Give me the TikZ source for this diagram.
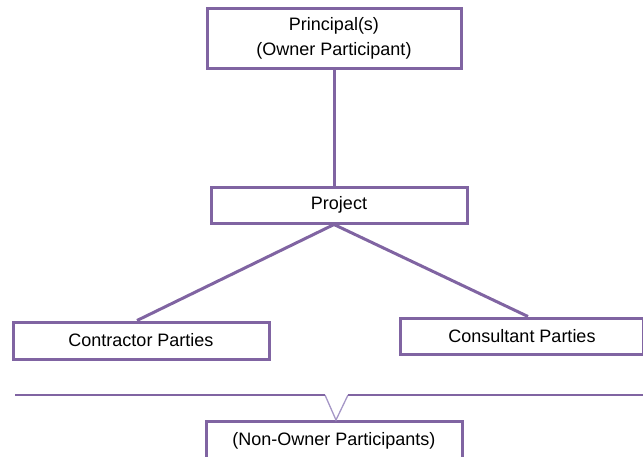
\documentclass[tikz,border=0pt]{standalone}
\usepackage{fontspec}
\setmainfont{Liberation Sans}
\definecolor{boxpurple}{HTML}{8064A2}
\definecolor{lightpurple}{HTML}{A596C6}
\begin{document}
\begin{tikzpicture}[x=1pt,y=-1pt,
  pbox/.style={draw=boxpurple, line width=3pt, fill=white, rectangle, inner sep=0pt,
    font=\fontsize{18}{25}\selectfont, align=center},
  conn/.style={draw=boxpurple, line width=3pt},
  thin/.style={draw=lightpurple, line width=1.3pt}]
\useasboundingbox (0,0) rectangle (643,456);
\clip (0,0) rectangle (643,456);
\node[pbox, minimum width=254pt, minimum height=60pt] (prin) at (334,38) {Principal(s)\\(Owner Participant)};
\node[pbox, minimum width=256pt, minimum height=36pt] (proj) at (339,205) {Project};
\node[pbox, minimum width=256pt, minimum height=37pt] (contr) at (141,340.5) {Contractor Parties};
\node[pbox, minimum width=243pt, minimum height=36pt] (cons) at (522,336) {Consultant Parties};
\node[pbox, minimum width=256pt, minimum height=40pt] (non) at (334,441) {(Non-Owner Participants)};
\coordinate (apex) at (prin.south |- proj.south);
\coordinate (ctop) at ([xshift=-4pt]contr.north);
\coordinate (stop) at ([xshift=6pt]cons.north);
\draw[conn] (prin.south) -- (prin.south |- proj.north);
\draw[conn] (apex) -- (ctop);
\draw[conn] (apex) -- (stop);
\coordinate (bl) at (15,395);
\coordinate (bm1) at (325,395);
\coordinate (bm2) at (348,395);
\coordinate (br) at (643,395);
\coordinate (vb) at (336,420);
\draw[thin] (bm1) -- (vb) -- (bm2);
\draw[conn, line width=2.5pt] (bl) -- (bm1);
\draw[conn, line width=2.5pt] (bm2) -- (br);
\end{tikzpicture}
\end{document}
